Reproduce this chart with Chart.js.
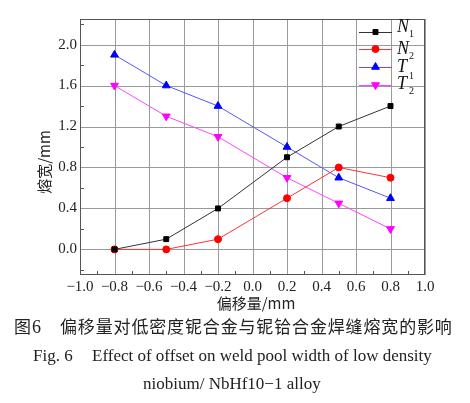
<!DOCTYPE html>
<html>
<head>
<meta charset="utf-8">
<script src="https://cdn.jsdelivr.net/npm/chart.js@4.4.1/dist/chart.umd.min.js"></script>
<style>
  html, body { margin: 0; padding: 0; background: #fff; }
  #wrap { width: 470px; height: 403px; }
</style>
</head>
<body>
<div id="wrap"><canvas id="myChart" width="470" height="403"></canvas></div>
<script>
// data
const offsets = [-0.8, -0.5, -0.2, 0.2, 0.5, 0.8];
const n1 = [0, 0.1, 0.4, 0.9, 1.2, 1.4];
const n2 = [0, 0, 0.1, 0.5, 0.8, 0.7];
const t1 = [1.9, 1.6, 1.4, 1.0, 0.7, 0.5];
const t2 = [1.6, 1.3, 1.1, 0.7, 0.45, 0.2];
const xTicks = [-1.0, -0.8, -0.6, -0.4, -0.2, 0.0, 0.2, 0.4, 0.6, 0.8, 1.0];
const yTicks = [0.0, 0.4, 0.8, 1.2, 1.6, 2.0];

const serif = '"Liberation Serif", "DejaVu Serif", serif';
const cjk = '"Noto Sans CJK SC", sans-serif';

const fmt = v => (v < 0 ? '\u2212' : '') + Math.abs(v).toFixed(1);
const pts = arr => offsets.map((x, i) => ({ x: x, y: arr[i] }));

const series = [
  { label: 'N', sub: '1', data: n1, color: '#000000', line: '#333333', style: 'rect', rot: 0, r: 3.5 },
  { label: 'N', sub: '2', data: n2, color: '#ff0000', line: '#ff3333', style: 'circle', rot: 0, r: 3.5 },
  { label: 'T', sub: '1', data: t1, color: '#0000ff', line: '#5555ff', style: 'triangle', rot: 0, r: 4.5 },
  { label: 'T', sub: '2', data: t2, color: '#ff00ff', line: '#ff44ff', style: 'triangle', rot: 180, r: 4.5 }
];

// grid lines under the data
const gridPlugin = {
  id: 'gridPlugin',
  beforeDatasetsDraw(chart) {
    const ctx = chart.ctx;
    const a = chart.chartArea;
    const xs = chart.scales.x, ys = chart.scales.y;
    ctx.save();
    ctx.strokeStyle = '#9a9a9a';
    ctx.lineWidth = 1;
    ctx.beginPath();
    xTicks.forEach(v => {
      const px = Math.round(xs.getPixelForValue(v)) + 0.5;
      ctx.moveTo(px, a.top); ctx.lineTo(px, a.bottom);
    });
    yTicks.forEach(v => {
      const py = Math.round(ys.getPixelForValue(v)) + 0.5;
      ctx.moveTo(a.left, py); ctx.lineTo(a.right, py);
    });
    ctx.stroke();
    ctx.restore();
  }
};

// frame, minor ticks, legend and captions
const decor = {
  id: 'decor',
  afterDraw(chart) {
    const ctx = chart.ctx;
    const a = chart.chartArea;
    const xs = chart.scales.x, ys = chart.scales.y;
    ctx.save();
    ctx.strokeStyle = '#555';
    ctx.lineWidth = 1;
    ctx.strokeRect(a.left + 0.5, a.top + 0.5, a.right - a.left - 1, a.bottom - a.top - 1);

    // minor ticks pointing inward
    ctx.beginPath();
    for (let v = -0.9; v < 1.0; v += 0.2) {
      const px = Math.round(xs.getPixelForValue(v)) + 0.5;
      ctx.moveTo(px, a.bottom); ctx.lineTo(px, a.bottom - 4);
    }
    for (let v = -0.2; v < 2.3; v += 0.4) {
      const py = Math.round(ys.getPixelForValue(v)) + 0.5;
      ctx.moveTo(a.left, py); ctx.lineTo(a.left + 4, py);
    }
    ctx.stroke();

    // legend
    const lx0 = 359, lx1 = 392;
    const rows = [32, 49, 67, 85];
    const textY = [27, 49, 67, 84];
    series.forEach((s, i) => {
      const y = rows[i];
      ctx.strokeStyle = s.line;
      ctx.lineWidth = 1;
      ctx.beginPath(); ctx.moveTo(lx0, y + 0.5); ctx.lineTo(lx1, y + 0.5); ctx.stroke();
      ctx.fillStyle = s.color;
      ctx.strokeStyle = s.color;
      Chart.helpers.drawPoint(ctx, { pointStyle: s.style, radius: s.r, rotation: s.rot, borderWidth: 1 }, (lx0 + lx1) / 2, y);
      ctx.fillStyle = '#111';
      ctx.textAlign = 'left';
      ctx.textBaseline = 'middle';
      ctx.font = 'italic 18px ' + serif;
      ctx.fillText(s.label, 397, textY[i]);
      ctx.font = '10px ' + serif;
      ctx.fillText(s.sub, 409, textY[i] + (i === 2 ? 9 : 7));
    });

    // axis titles
    ctx.fillStyle = '#222';
    ctx.textAlign = 'center';
    ctx.textBaseline = 'middle';
    ctx.font = '15px ' + cjk;
    ctx.fillText('偏移量/mm', 256, 303);
    ctx.save();
    ctx.translate(44, 162);
    ctx.rotate(-Math.PI / 2);
    ctx.fillText('熔宽/mm', 0, 0);
    ctx.restore();

    // captions
    ctx.textAlign = 'left';
    ctx.font = '17px ' + cjk;
    ctx.fillText('图', 14, 327);
    ctx.font = '18px ' + serif;
    ctx.fillText('6', 32, 328);
    const cap = '偏移量对低密度铌合金与铌铪合金焊缝熔宽的影响';
    ctx.font = '17px ' + cjk;
    for (let i = 0; i < cap.length; i++) ctx.fillText(cap[i], 60 + i * 17.85, 327);
    ctx.font = '17px ' + serif;
    ctx.fillText('Fig. 6', 33, 357);
    ctx.fillText('Effect of offset on weld pool width of low density', 92, 357);
    ctx.fillText('niobium/ NbHf10\u22121 alloy', 143, 385);
    ctx.restore();
  }
};

new Chart(document.getElementById('myChart').getContext('2d'), {
  type: 'line',
  data: {
    datasets: series.map(s => ({
      label: s.label + s.sub,
      data: pts(s.data),
      borderColor: s.line,
      backgroundColor: s.color,
      pointBorderColor: s.color,
      pointBackgroundColor: s.color,
      pointStyle: s.style,
      pointRotation: s.rot,
      pointRadius: s.r,
      borderWidth: 1,
      tension: 0
    }))
  },
  options: {
    responsive: false,
    animation: false,
    layout: { padding: { top: 19, right: 45, left: 0, bottom: 0 } },
    plugins: { legend: { display: false }, tooltip: { enabled: false } },
    scales: {
      x: {
        type: 'linear',
        min: -1.0,
        max: 1.0,
        afterBuildTicks: sc => { sc.ticks = xTicks.map(v => ({ value: v })); },
        afterFit: sc => { sc.height = 128; },
        grid: { display: false, drawTicks: false },
        border: { display: false },
        ticks: {
          padding: 3,
          maxRotation: 0,
          autoSkip: false,
          color: '#222',
          font: { family: serif, size: 15 },
          callback: v => fmt(v)
        }
      },
      y: {
        type: 'linear',
        min: -0.25,
        max: 2.25,
        afterBuildTicks: sc => { sc.ticks = yTicks.map(v => ({ value: v })); },
        afterFit: sc => { sc.width = 80; },
        grid: { display: false, drawTicks: false },
        border: { display: false },
        ticks: {
          padding: 3,
          color: '#222',
          font: { family: serif, size: 15 },
          callback: v => v.toFixed(1)
        }
      }
    }
  },
  plugins: [gridPlugin, decor]
});
</script>
</body>
</html>
